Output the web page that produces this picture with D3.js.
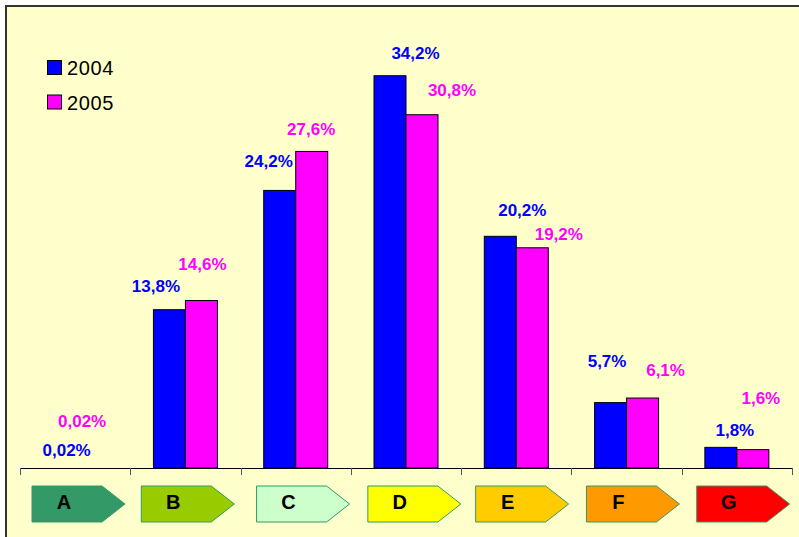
<!DOCTYPE html>
<html><head><meta charset="utf-8">
<script src="https://cdn.jsdelivr.net/npm/d3@7"></script>
<style>
html,body{margin:0;padding:0;background:#fff;}
svg{display:block;font-family:"Liberation Sans",Arial,sans-serif;}
</style></head>
<body>
<script>
// ---- data ----
const categories = ["A","B","C","D","E","F","G"];
const series2004 = [0.02, 13.8, 24.2, 34.2, 20.2, 5.7, 1.8];
const series2005 = [0.02, 14.6, 27.6, 30.8, 19.2, 6.1, 1.6];
const labels2004 = ["0,02%","13,8%","24,2%","34,2%","20,2%","5,7%","1,8%"];
const labels2005 = ["0,02%","14,6%","27,6%","30,8%","19,2%","6,1%","1,6%"];
const seriesNames = ["2004","2005"];
const categoryColors = ["#339966","#99CC00","#CCFFCC","#FFFF00","#FFCC00","#FF9900","#FF0000"];

// ---- layout (hand-placed label nudges, as in the original) ----
const nudge2004 = [[7.5,-12],[-13.5,-18],[-11,-23],[25.5,-17],[22,-20],[-3.5,-36],[14,-11.5]];
const nudge2005 = [[-9,-41],[1,-31],[-0.5,-16],[30,-19],[26.5,-7.5],[23,-22],[8,-45.5]];
const arrowDx = [12,11,16,17,14.5,15,15];

const W = 799, H = 537;
const svg = d3.select("body").append("svg").attr("width",W).attr("height",H);

svg.append("rect").attr("x",0).attr("y",0).attr("width",W).attr("height",H).attr("fill","#fff");
svg.append("rect").attr("x",6).attr("y",6).attr("width",W).attr("height",H)
  .attr("fill","#FFFFCC").attr("stroke","#333").attr("stroke-width",2);

const x0 = d3.scaleBand().domain(categories).range([20,792]).paddingInner(0).paddingOuter(0);
const x1 = d3.scaleBand().domain(seriesNames).range([x0.bandwidth()/2-32, x0.bandwidth()/2+32]);
const y = d3.scaleLinear().domain([0,40]).range([468, 9.2]);
const colors = {"2004":"#0000FF","2005":"#FF00FF"};

const data = categories.map((c,i)=>({cat:c, i, vals:[
  {s:"2004", v:series2004[i], label:labels2004[i], n:nudge2004[i]},
  {s:"2005", v:series2005[i], label:labels2005[i], n:nudge2005[i]}]}));

const g = svg.selectAll("g.cat").data(data).enter().append("g")
  .attr("class","cat").attr("transform",d=>`translate(${x0(d.cat)},0)`);

g.selectAll("rect.bar").data(d=>d.vals.filter(v=>y(0)-y(v.v)>=1)).enter().append("rect")
  .attr("x",d=>x1(d.s)).attr("width",x1.bandwidth())
  .attr("y",d=>y(d.v)).attr("height",d=>y(0)-y(d.v))
  .attr("fill",d=>colors[d.s]).attr("stroke","#000").attr("stroke-width",1);

g.selectAll("text.val").data(d=>d.vals).enter().append("text")
  .attr("x",d=>x1(d.s)+x1.bandwidth()/2+d.n[0])
  .attr("y",d=>y(d.v)+d.n[1])
  .attr("text-anchor","middle").attr("font-weight","bold").attr("font-size","17px")
  .attr("fill",d=>colors[d.s]).text(d=>d.label);

// axis baseline and boundary ticks
const ax = svg.append("g").attr("transform","translate(0,468)");
ax.append("line").attr("x1",20).attr("x2",792).attr("y1",0.5).attr("y2",0.5).attr("stroke","#000");
const bounds = categories.map(c=>x0(c)).concat([x0.range()[1]]);
ax.selectAll("line.tick").data(bounds).enter().append("line")
  .attr("x1",d=>Math.round(d)+0.5).attr("x2",d=>Math.round(d)+0.5).attr("y1",0).attr("y2",7)
  .attr("stroke","#555");

// category arrows
const aw = 93, ar = 70, atop = 486, abot = 522;
const arr = svg.selectAll("g.arrow").data(categories).enter().append("g")
  .attr("transform",(c,i)=>`translate(${x0(c)+arrowDx[i]},0)`);
arr.append("path")
  .attr("d",`M0,${atop}H${ar}L${aw},${(atop+abot)/2}L${ar},${abot}H0Z`)
  .attr("fill",(c,i)=>categoryColors[i]).attr("stroke","#339966").attr("stroke-width",1);
arr.append("text").attr("x",32).attr("y",509).attr("text-anchor","middle")
  .attr("font-weight","bold").attr("font-size","20px").attr("fill","#000").text(c=>c);

// legend
const leg = svg.selectAll("g.leg").data(seriesNames).enter().append("g")
  .attr("transform",(d,i)=>`translate(47,${60+i*34.5})`);
leg.append("rect").attr("x",0.5).attr("y",0.5).attr("width",14).attr("height",14)
  .attr("fill",d=>colors[d]).attr("stroke","#000");
leg.append("text").attr("x",20).attr("y",15).attr("font-size","20px")
  .attr("letter-spacing","0.6px").attr("fill","#000").text(d=>d);
</script>
</body></html>
